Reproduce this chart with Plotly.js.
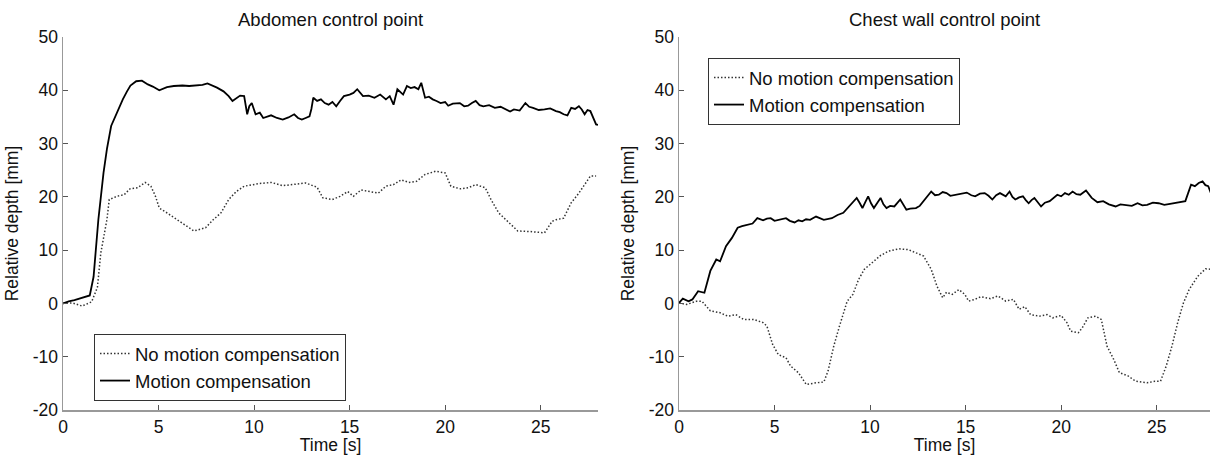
<!DOCTYPE html>
<html>
<head>
<meta charset="utf-8">
<script src="https://cdn.plot.ly/plotly-3.0.1.min.js"></script>
<style>html,body{margin:0;padding:0;background:#fff;}#chart{width:1210px;height:455px;}</style>
</head>
<body>
<div id="chart"></div>
<script>
// ---- data (time [s], relative depth [mm]) ----
const abdomenMC = [[0,0],[0.3,0.4],[0.6,0.6],[0.9,0.9],[1.2,1.3],[1.4,1.5],[1.6,5],[1.85,15.7],[2.12,24.5],[2.3,29],[2.52,33.3],[2.82,35.8],[3.13,38.3],[3.35,39.8],[3.53,40.9],[3.83,41.7],[4.13,41.8],[4.44,41.1],[4.7,40.7],[5.04,40.0],[5.25,40.3],[5.44,40.6],[5.8,40.8],[6.25,40.9],[6.6,40.8],[7.06,40.9],[7.3,41.0],[7.56,41.3],[8.06,40.5],[8.4,39.8],[8.67,38.9],[8.87,38.0],[9.1,38.6],[9.27,39.0],[9.48,38.9],[9.64,35.5],[9.75,37.0],[9.88,37.6],[10.08,35.5],[10.3,35.8],[10.48,34.8],[10.7,35.0],[10.89,35.3],[11.2,34.8],[11.5,34.5],[11.8,34.9],[12.1,35.5],[12.3,34.8],[12.5,34.5],[12.7,34.8],[12.9,35.1],[13.0,36.5],[13.1,38.6],[13.3,38.0],[13.5,38.3],[13.7,37.6],[13.9,37.3],[14.1,37.8],[14.3,37.0],[14.5,38.0],[14.7,38.9],[15.0,39.2],[15.2,39.5],[15.4,40.2],[15.7,38.9],[16.0,39.0],[16.3,38.6],[16.6,39.2],[16.9,38.3],[17.1,38.9],[17.3,37.3],[17.5,40.2],[17.8,39.2],[18.0,40.8],[18.2,40.4],[18.4,40.6],[18.6,40.2],[18.75,41.4],[18.95,38.6],[19.15,38.8],[19.35,38.3],[19.55,38.0],[19.76,37.6],[20.0,37.8],[20.16,37.1],[20.4,37.5],[20.77,37.6],[21.0,37.0],[21.2,37.1],[21.4,37.6],[21.6,38.0],[21.8,37.2],[22.0,37.0],[22.3,37.2],[22.6,36.7],[22.9,36.9],[23.2,36.4],[23.4,36.0],[23.6,36.4],[23.9,36.2],[24.2,37.6],[24.4,36.9],[24.6,36.7],[24.9,36.3],[25.2,36.4],[25.5,36.6],[25.8,36.1],[26.0,35.9],[26.2,35.5],[26.4,35.3],[26.6,36.7],[26.8,36.5],[27.0,37.0],[27.15,36.4],[27.3,35.5],[27.45,36.3],[27.6,36.1],[27.75,35.0],[27.9,33.6],[28.0,33.5]];

const abdomenNoMC = [[0,0],[0.5,0.1],[1.0,-0.5],[1.5,0.3],[1.8,3],[1.98,9.5],[2.3,15.75],[2.42,19.5],[2.82,20.1],[3.2,20.4],[3.5,21.5],[3.9,21.7],[4.3,22.7],[4.6,22.0],[4.84,20.1],[5.04,17.9],[5.44,17.0],[5.85,16.0],[6.25,15.1],[6.85,13.6],[7.46,14.2],[7.86,15.7],[8.27,17.0],[8.67,19.5],[9.07,21.0],[9.48,22.0],[10.28,22.5],[10.9,22.7],[11.5,22.1],[12.1,22.3],[12.7,22.6],[13.3,21.8],[13.6,19.8],[14.1,19.5],[14.5,20.1],[14.9,21.0],[15.2,20.1],[15.6,21.3],[16.1,21.0],[16.5,20.7],[16.9,22.0],[17.3,22.3],[17.7,23.2],[18.1,22.7],[18.5,22.9],[18.95,24.2],[19.5,24.8],[20.0,24.5],[20.3,22.0],[20.8,21.5],[21.2,21.7],[21.6,22.3],[22.1,21.7],[22.4,19.5],[22.8,17.0],[23.2,15.7],[23.8,13.6],[24.4,13.5],[25.2,13.25],[25.6,15.4],[25.8,15.7],[26.2,16.0],[26.6,18.9],[27.0,20.7],[27.3,22.3],[27.6,23.9],[27.9,23.9]];

const chestMC = [[0,0.1],[0.2,0.9],[0.5,0.4],[0.7,0.75],[1.0,2.3],[1.33,2.0],[1.64,6.1],[1.95,8.25],[2.15,7.9],[2.46,10.75],[2.77,12.3],[3.07,14.2],[3.3,14.5],[3.59,14.7],[3.85,15.0],[4.1,16.0],[4.4,15.6],[4.6,15.9],[4.8,16.0],[5.0,15.5],[5.2,15.7],[5.4,15.9],[5.6,16.0],[5.8,15.5],[6.05,15.2],[6.25,15.6],[6.45,15.4],[6.65,15.8],[6.86,15.7],[7.17,16.3],[7.4,15.9],[7.58,15.7],[8.0,16.0],[8.3,16.6],[8.6,17.0],[8.9,18.2],[9.1,19.2],[9.3,19.8],[9.45,18.9],[9.6,17.9],[9.75,19.0],[9.9,20.1],[10.05,18.8],[10.2,17.9],[10.4,19.0],[10.55,19.8],[10.7,18.6],[10.86,17.9],[11.05,18.3],[11.27,18.2],[11.58,19.5],[11.9,17.6],[12.1,17.8],[12.4,17.9],[12.6,18.3],[12.8,19.2],[13.2,21.0],[13.4,20.3],[13.6,20.4],[13.8,20.9],[14.0,20.7],[14.2,20.2],[14.5,20.4],[14.8,20.6],[15.06,20.8],[15.3,20.3],[15.5,20.1],[15.75,20.6],[16.0,20.7],[16.2,20.2],[16.4,19.5],[16.6,20.3],[16.8,20.7],[17.1,20.1],[17.3,21.0],[17.45,20.0],[17.6,19.5],[17.8,19.9],[18.0,20.1],[18.15,19.4],[18.3,18.8],[18.45,19.4],[18.6,19.8],[18.95,18.2],[19.15,18.9],[19.4,19.2],[19.6,19.8],[19.8,20.4],[20.0,20.1],[20.2,20.7],[20.4,20.4],[20.6,21.0],[20.8,20.5],[21.0,20.4],[21.3,21.2],[21.6,19.8],[21.9,19.0],[22.2,19.2],[22.5,18.6],[22.85,18.2],[23.1,18.6],[23.4,18.5],[23.7,18.3],[24.0,18.8],[24.25,18.4],[24.5,18.5],[24.8,18.9],[25.1,18.8],[25.4,18.5],[25.7,18.7],[26.0,18.9],[26.3,19.2],[26.5,19.2],[26.8,22.3],[27.0,22.0],[27.2,22.6],[27.4,22.9],[27.55,22.2],[27.7,22.0],[27.87,20.4]];

const chestNoMC = [[0,0.1],[0.4,-0.2],[0.9,0.4],[1.2,0.4],[1.64,-1.4],[2.15,-1.75],[2.56,-2.4],[2.97,-2.1],[3.38,-3.0],[3.9,-3.0],[4.4,-3.6],[4.6,-4.25],[4.9,-7.7],[5.2,-9.6],[5.6,-10.2],[5.84,-11.75],[6.25,-13.0],[6.66,-15.2],[7.17,-14.9],[7.58,-14.75],[7.8,-12.7],[8.1,-8.0],[8.4,-4.25],[8.8,0.4],[9.1,1.7],[9.4,4.5],[9.7,6.4],[10.1,7.6],[10.55,9.0],[10.96,9.8],[11.5,10.25],[12.0,10.1],[12.4,9.5],[12.8,8.9],[13.2,6.4],[13.5,3.25],[13.8,1.06],[14.0,2.1],[14.3,1.7],[14.65,2.6],[14.96,1.7],[15.16,0.44],[15.47,0.75],[15.8,1.25],[16.3,0.9],[16.7,1.4],[17.1,0.44],[17.5,0.75],[17.8,-1.1],[18.1,-0.6],[18.4,-2.1],[18.85,-2.4],[19.26,-2.1],[19.57,-2.7],[20.0,-2.25],[20.3,-3.6],[20.5,-5.2],[20.9,-5.5],[21.1,-4.6],[21.4,-2.7],[21.8,-2.4],[22.1,-3.0],[22.4,-8.0],[22.75,-10.5],[23.05,-13.0],[23.5,-13.6],[23.9,-14.6],[24.5,-14.9],[24.9,-14.6],[25.2,-14.6],[25.5,-11.75],[25.8,-8.0],[26.1,-3.6],[26.4,0.1],[26.7,2.6],[27.15,5.1],[27.56,6.5],[27.87,6.4]];

const panelTitles = ["Abdomen control point", "Chest wall control point"];
const seriesNames = ["No motion compensation", "Motion compensation"];
const xTickVals = [0, 5, 10, 15, 20, 25];
const xTickText = ["0", "5", "10", "15", "20", "25"];
const yTickVals = [-20, -10, 0, 10, 20, 30, 40, 50];
const yTickText = ["-20", "-10", "0", "10", "20", "30", "40", "50"];
const xLabel = "Time [s]";
const yLabel = "Relative depth [mm]";

// ---- styling ----
const FONT = "Liberation Sans, Arial, Helvetica, sans-serif";
const xs = d => d.map(p => p[0]);
const ys = d => d.map(p => p[1]);
const dotLine = {color: "#333333", width: 1.5, dash: "1.5px,2px"};
const solidLine = {color: "#000000", width: 1.8};

const traces = [
  {x: xs(abdomenNoMC), y: ys(abdomenNoMC), name: seriesNames[0], mode: "lines", line: dotLine, xaxis: "x", yaxis: "y", legend: "legend"},
  {x: xs(abdomenMC), y: ys(abdomenMC), name: seriesNames[1], mode: "lines", line: solidLine, xaxis: "x", yaxis: "y", legend: "legend"},
  {x: xs(chestNoMC), y: ys(chestNoMC), name: seriesNames[0], mode: "lines", line: dotLine, xaxis: "x2", yaxis: "y2", legend: "legend2"},
  {x: xs(chestMC), y: ys(chestMC), name: seriesNames[1], mode: "lines", line: solidLine, xaxis: "x2", yaxis: "y2", legend: "legend2"}
];

const W = 1210, H = 455;
const plotTop = 37, plotBottom = 410;
const L1 = 63, R1 = 598, L2 = 679, R2 = 1210;

function xax(domain, range, anchor) {
  return {
    domain: domain, range: range, anchor: anchor,
    tickmode: "array", tickvals: xTickVals, ticktext: xTickText,
    ticks: "inside", ticklen: 5, tickcolor: "#555", tickwidth: 1,
    showline: true, linecolor: "#999999", linewidth: 1.5,
    showgrid: false, zeroline: false,
    tickfont: {family: FONT, size: 17.5, color: "#111"},
    title: {text: xLabel, font: {family: FONT, size: 17.5, color: "#111"}},
    automargin: false, fixedrange: true
  };
}
function yax(domain, anchor) {
  return {
    domain: domain, range: [-20, 50], anchor: anchor,
    tickmode: "array", tickvals: yTickVals, ticktext: yTickText,
    ticks: "inside", ticklen: 5, tickcolor: "#555", tickwidth: 1,
    showline: true, linecolor: "#999999", linewidth: 1.5,
    showgrid: false, zeroline: false,
    tickfont: {family: FONT, size: 17.5, color: "#111"},
    title: {text: yLabel, font: {family: FONT, size: 17.5, color: "#111"}},
    automargin: false, fixedrange: true
  };
}

const yDom = [1 - plotBottom / H, 1 - plotTop / H];
const pxPerSec = (R1 - L1) / 28;

const legendStyle = (x, y) => ({
  x: x, y: y, xref: "paper", yref: "paper", xanchor: "left", yanchor: "top",
  bgcolor: "#ffffff", bordercolor: "#333333", borderwidth: 1,
  font: {family: FONT, size: 18.5, color: "#111"},
  tracegroupgap: 0, itemwidth: 30
});

const layout = {
  width: W, height: H,
  margin: {l: 0, r: 0, t: 0, b: 0, pad: 0},
  paper_bgcolor: "#ffffff", plot_bgcolor: "#ffffff",
  showlegend: true,
  font: {family: FONT, size: 17.5, color: "#111"},
  xaxis: xax([L1 / W, R1 / W], [0, 28], "y"),
  yaxis: yax(yDom, "x"),
  xaxis2: xax([L2 / W, R2 / W], [0, (R2 - L2) / pxPerSec], "y2"),
  yaxis2: yax(yDom, "x2"),
  legend: legendStyle(94 / W, 1 - 334 / H),
  legend2: legendStyle(708 / W, 1 - 58 / H),
  annotations: [
    {text: panelTitles[0], x: (L1 + R1) / 2 / W, y: 1 - 20 / H, xref: "paper", yref: "paper", xanchor: "center", yanchor: "middle", showarrow: false, font: {family: FONT, size: 18.5, color: "#111"}},
    {text: panelTitles[1], x: (L2 + R2) / 2 / W, y: 1 - 20 / H, xref: "paper", yref: "paper", xanchor: "center", yanchor: "middle", showarrow: false, font: {family: FONT, size: 18.5, color: "#111"}}
  ]
};

Plotly.newPlot("chart", traces, layout, {staticPlot: true, displayModeBar: false});
</script>
</body>
</html>
